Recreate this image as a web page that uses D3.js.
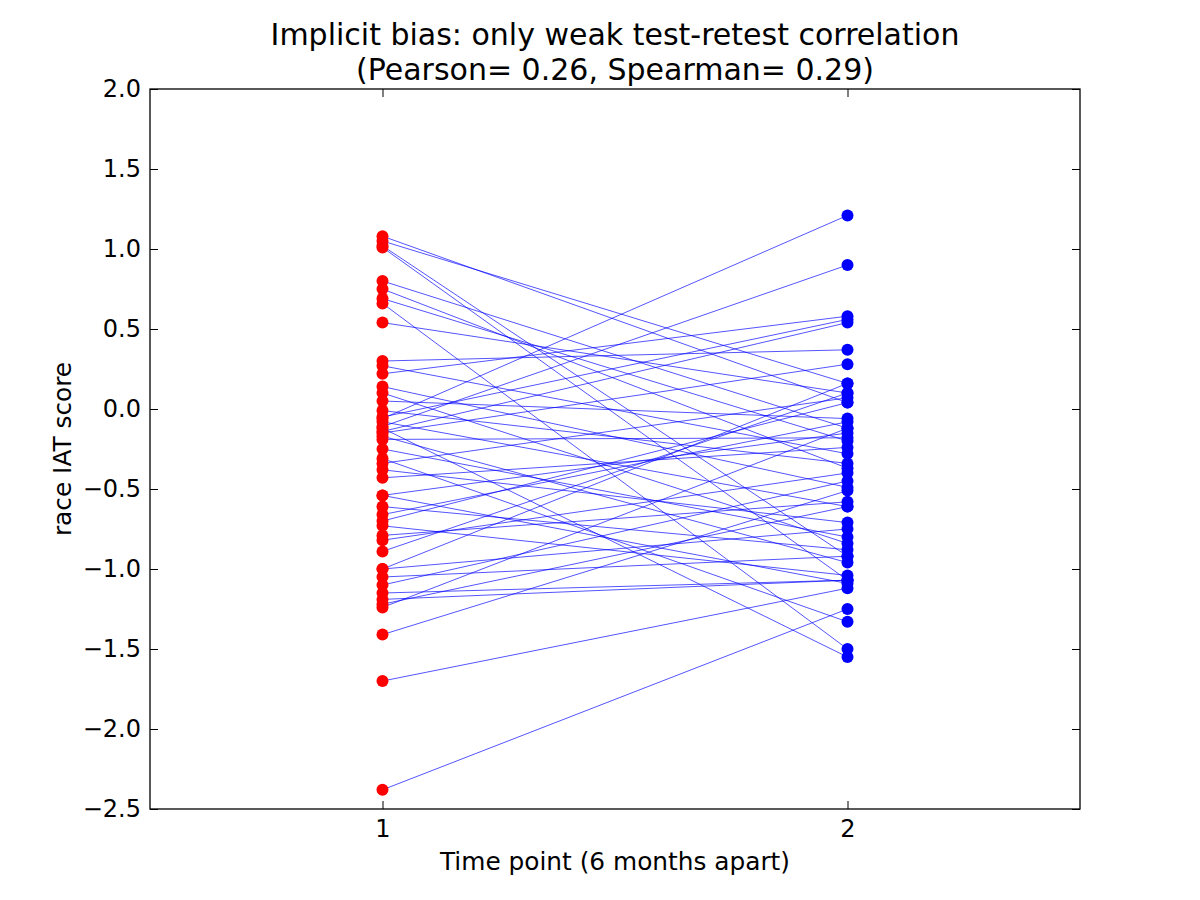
<!DOCTYPE html>
<html>
<head>
<meta charset="utf-8">
<script src="https://cdn.jsdelivr.net/npm/d3@7"></script>
<style>
  body { margin: 0; background: #fff; }
  svg { font-family: "DejaVu Sans", sans-serif; }
</style>
</head>
<body>
<svg></svg>
<script>
// IAT score at the first and second session, one entry per participant
let time1 = [1.08, 1.05, 1.02, 1.01, 0.80, 0.75, 0.69, 0.66, 0.54, 0.30,
             0.27, 0.22, 0.14, 0.10, 0.05, -0.01, -0.05, -0.06, -0.08, -0.11,
             -0.12, -0.14, -0.15, -0.17, -0.19, -0.25, -0.31, -0.34, -0.38, -0.43,
             -0.54, -0.54, -0.61, -0.66, -0.70, -0.73, -0.79, -0.82, -0.89, -1.00,
             -1.00, -1.05, -1.10, -1.15, -1.19, -1.22, -1.24, -1.41, -1.70, -2.38]
let time2 = [0.04, 0.16, -0.92, -1.07, -0.12, -0.37, -0.20, -1.50, 0.10, 0.37,
             -0.28, 0.58, -0.49, -0.84, -0.06, -0.34, 0.56, 1.21, -0.61, 0.90,
             -1.55, 0.54, 0.28, -0.96, -0.18, -0.80, -1.33, 0.07, -0.71, -0.24,
             -0.15, -1.09, -0.88, -0.08, 0.04, -1.04, -0.58, -0.40, 0.10, -0.75,
             0.16, -0.92, -0.45, -1.07, -1.07, -0.61, -0.12, -0.51, -1.12, -1.25]

let yTicks = [2.0, 1.5, 1.0, 0.5, 0.0, -0.5, -1.0, -1.5, -2.0, -2.5]
let xTicks = [1, 2]

let titleLines = ["Implicit bias: only weak test-retest correlation",
                  "(Pearson= 0.26, Spearman= 0.29)"]

let width = 1200
let height = 900
let margin = {top: 89, right: 120, bottom: 91, left: 150}

let svg = d3.select("svg")
    .attr("width", width)
    .attr("height", height)

let xScale = d3.scaleLinear()
    .domain([0.5, 2.5])
    .range([margin.left, width - margin.right])

let yScale = d3.scaleLinear()
    .domain([-2.5, 2.0])
    .range([height - margin.bottom, margin.top])

let fmt = (d) => d3.format(".1f")(d).replace("-", "\u2212")

// lines joining the two sessions
let pairs = time1.map((d, i) => [d, time2[i]])

svg.append("g")
    .selectAll("line")
    .data(pairs)
    .enter()
    .append("line")
    .attr("x1", xScale(1))
    .attr("x2", xScale(2))
    .attr("y1", (d) => yScale(d[0]))
    .attr("y2", (d) => yScale(d[1]))
    .attr("stroke", "#0000ff")
    .attr("stroke-opacity", 0.75)
    .attr("stroke-width", 0.9)

svg.append("g")
    .selectAll("circle")
    .data(time1)
    .enter()
    .append("circle")
    .attr("cx", xScale(1))
    .attr("cy", (d) => yScale(d))
    .attr("r", 6)
    .attr("fill", "#ff0000")

svg.append("g")
    .selectAll("circle")
    .data(time2)
    .enter()
    .append("circle")
    .attr("cx", xScale(2))
    .attr("cy", (d) => yScale(d))
    .attr("r", 6)
    .attr("fill", "#0000ff")

// axes, ticks pointing inward on all four sides
let tickLen = 8

let leftAxis = svg.append("g")
    .attr("transform", "translate(" + margin.left + ",0)")
    .call(d3.axisLeft(yScale).tickValues(yTicks).tickFormat(fmt).tickSizeInner(-tickLen).tickSizeOuter(0).tickPadding(9))

let rightAxis = svg.append("g")
    .attr("transform", "translate(" + (width - margin.right) + ",0)")
    .call(d3.axisRight(yScale).tickValues(yTicks).tickFormat("").tickSizeInner(-tickLen).tickSizeOuter(0))

let bottomAxis = svg.append("g")
    .attr("transform", "translate(0," + (height - margin.bottom) + ")")
    .call(d3.axisBottom(xScale).tickValues(xTicks).tickFormat(d3.format("d")).tickSizeInner(-tickLen).tickSizeOuter(0).tickPadding(11))

let topAxis = svg.append("g")
    .attr("transform", "translate(0," + margin.top + ")")
    .call(d3.axisTop(xScale).tickValues(xTicks).tickFormat("").tickSizeInner(-tickLen).tickSizeOuter(0))

svg.selectAll(".domain").remove()
svg.selectAll(".tick line").attr("stroke", "#000").attr("stroke-width", 1)
svg.selectAll(".tick text")
    .attr("fill", "#000")
    .style("font-size", "24px")
    .style("font-family", "DejaVu Sans")

svg.append("rect")
    .attr("x", margin.left)
    .attr("y", margin.top)
    .attr("width", width - margin.left - margin.right)
    .attr("height", height - margin.top - margin.bottom)
    .attr("fill", "none")
    .attr("stroke", "#000")
    .attr("stroke-width", 1.3)

// labels
svg.append("text")
    .attr("x", xScale(1.5))
    .attr("y", 870)
    .attr("text-anchor", "middle")
    .style("font-size", "24.8px")
    .text("Time point (6 months apart)")

svg.append("text")
    .attr("transform", "translate(71," + yScale(-0.25) + ")rotate(-90)")
    .attr("text-anchor", "middle")
    .style("font-size", "24.8px")
    .text("race IAT score")

svg.append("g")
    .selectAll("text")
    .data(titleLines)
    .enter()
    .append("text")
    .attr("x", xScale(1.5))
    .attr("y", (d, i) => 45 + i * 35)
    .attr("text-anchor", "middle")
    .style("font-size", "30px")
    .text((d) => d)
</script>
</body>
</html>
